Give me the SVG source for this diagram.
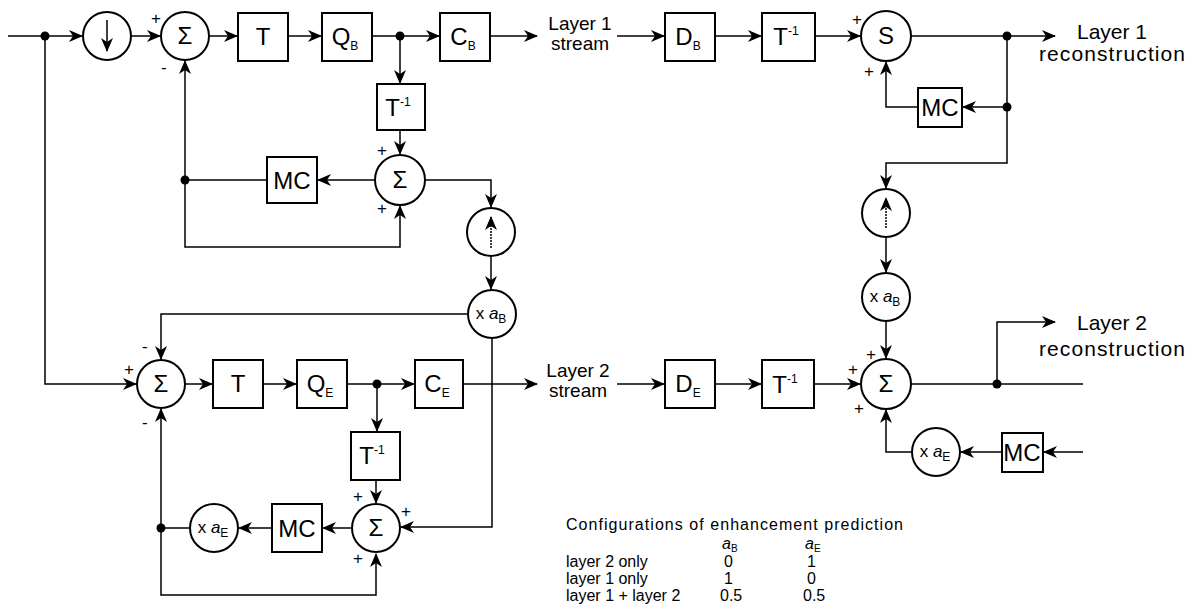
<svg xmlns="http://www.w3.org/2000/svg" width="1200" height="607" viewBox="0 0 1200 607">
<defs>
<style>
.bx{fill:#fff;stroke:#000;stroke-width:2}
.ci{fill:#fff;stroke:#000;stroke-width:2}
.ln{fill:none;stroke:#000;stroke-width:1.5}
.ar{marker-end:url(#ah)}
.dt{fill:#000}
text{font-family:"Liberation Sans",Arial,sans-serif;fill:#000}
.lb{font-size:24px;text-anchor:middle}
.sm{font-size:12px}
.sg{font-size:17px}
.st{font-size:19px;text-anchor:middle}
.rc{font-size:21px;text-anchor:middle}
.tb{font-size:16px}
.xa{font-size:17px;text-anchor:middle}
</style>
<marker id="ah" markerUnits="userSpaceOnUse" markerWidth="14" markerHeight="12" viewBox="0 0 14 12" refX="13" refY="6" orient="auto">
<path d="M0,0 L14,6 L0,12 L4,6 z" fill="#000"/>
</marker>
</defs>

<g id="connectors">
<path class="ln ar" d="M8,36 H82"/>
<path class="ln ar" d="M131,36 H160"/>
<path class="ln ar" d="M209,36 H237"/>
<path class="ln ar" d="M288,36 H321"/>
<path class="ln ar" d="M372,36 H439"/>
<path class="ln ar" d="M490,36 H537"/>
<path class="ln ar" d="M617,36 H664"/>
<path class="ln ar" d="M715,36 H761"/>
<path class="ln ar" d="M815,36 H860"/>
<path class="ln ar" d="M911,36 H1055"/>
<path class="ln ar" d="M1007,36 V163 H886 V188"/>
<path class="ln ar" d="M1007,107 H963"/>
<path class="ln ar" d="M918,107 H886 V62"/>
<path class="ln ar" d="M886,237 V272"/>
<path class="ln ar" d="M886,321 V358"/>
<path class="ln ar" d="M400,36 V83"/>
<path class="ln ar" d="M400,130 V154"/>
<path class="ln ar" d="M375,180 H318"/>
<path class="ln" d="M267,180 H185"/>
<path class="ln ar" d="M185,180 V61"/>
<path class="ln ar" d="M185,180 V247 H400 V206"/>
<path class="ln ar" d="M425,180 H491 V207"/>
<path class="ln ar" d="M491,256 V289"/>
<path class="ln ar" d="M468,314 H161 V359"/>
<path class="ln ar" d="M492,338 V527 H401"/>
<path class="ln ar" d="M45,36 V384 H136"/>
<path class="ln ar" d="M185,384 H212"/>
<path class="ln ar" d="M263,384 H296"/>
<path class="ln ar" d="M347,384 H414"/>
<path class="ln ar" d="M463,384 H537"/>
<path class="ln ar" d="M617,384 H664"/>
<path class="ln ar" d="M715,384 H761"/>
<path class="ln ar" d="M814,384 H860"/>
<path class="ln" d="M911,384 H1083"/>
<path class="ln ar" d="M997,384 V322 H1055"/>
<path class="ln ar" d="M377,384 V431"/>
<path class="ln ar" d="M376,480 V503"/>
<path class="ln ar" d="M352,528 H323"/>
<path class="ln ar" d="M272,528 H239"/>
<path class="ln" d="M190,528 H161"/>
<path class="ln ar" d="M161,528 V409"/>
<path class="ln ar" d="M161,528 V595 H376 V554"/>
<path class="ln ar" d="M1083,452 H1044"/>
<path class="ln ar" d="M1002,452 H961"/>
<path class="ln ar" d="M912,452 H886 V410"/>
<circle class="dt" cx="45" cy="36" r="4.5"/>
<circle class="dt" cx="400" cy="36" r="4.5"/>
<circle class="dt" cx="1007" cy="36" r="4.5"/>
<circle class="dt" cx="1007" cy="107" r="4.5"/>
<circle class="dt" cx="185" cy="180" r="4.5"/>
<circle class="dt" cx="377" cy="384" r="4.5"/>
<circle class="dt" cx="997" cy="384" r="4.5"/>
<circle class="dt" cx="161" cy="528" r="4.5"/>
</g>

<g id="down1">
<circle class="ci" cx="107" cy="36" r="24"/>
<path class="ln ar" d="M107,20 V51"/>
</g>
<g id="sum1">
<circle class="ci" cx="185" cy="36" r="24"/>
<text class="lb" x="185" y="44">Σ</text>
<text class="sg" x="151" y="24">+</text>
<text class="sg" x="161" y="73">-</text>
</g>
<g id="T1">
<rect class="bx" x="238" y="13" width="50" height="48"/>
<text class="lb" x="263" y="45">T</text>
</g>
<g id="QB">
<rect class="bx" x="322" y="13" width="50" height="48"/>
<text class="lb" x="345" y="45">Q<tspan class="sm" dy="5">B</tspan></text>
</g>
<g id="CB">
<rect class="bx" x="440" y="13" width="50" height="48"/>
<text class="lb" x="463" y="45">C<tspan class="sm" dy="5">B</tspan></text>
</g>
<g id="layer1stream">
<text class="st" x="580" y="30">Layer 1</text>
<text class="st" x="580" y="50">stream</text>
</g>
<g id="DB">
<rect class="bx" x="665" y="13" width="50" height="48"/>
<text class="lb" x="688" y="45">D<tspan class="sm" dy="5">B</tspan></text>
</g>
<g id="Tinv1">
<rect class="bx" x="762" y="13" width="53" height="48"/>
<text class="lb" x="786" y="45">T<tspan class="sm" dy="-10">-1</tspan></text>
</g>
<g id="S">
<circle class="ci" cx="886" cy="36" r="25"/>
<text class="lb" x="886" y="44">S</text>
<text class="sg" x="852" y="25">+</text>
<text class="sg" x="864" y="77">+</text>
</g>
<g id="layer1rec">
<text class="rc" x="1112" y="39">Layer 1</text>
<text class="rc" x="1112" y="61" textLength="146">reconstruction</text>
</g>
<g id="MC1">
<rect class="bx" x="918" y="88" width="44" height="39"/>
<text class="lb" x="940" y="116">MC</text>
</g>
<g id="up1">
<circle class="ci" cx="886" cy="213" r="24"/>
<path class="ln ar" d="M886,228 V198" stroke-dasharray="2,1"/>
</g>
<g id="xaB1">
<circle class="ci" cx="886" cy="297" r="24"/>
<text class="xa" x="885" y="302">x <tspan font-style="italic">a</tspan><tspan class="sm" dy="4">B</tspan></text>
</g>
<g id="Tinv2">
<rect class="bx" x="377" y="84" width="48" height="46"/>
<text class="lb" x="398" y="116">T<tspan class="sm" dy="-10">-1</tspan></text>
</g>
<g id="sum2">
<circle class="ci" cx="400" cy="180" r="25"/>
<text class="lb" x="400" y="188">Σ</text>
<text class="sg" x="377" y="156">+</text>
<text class="sg" x="377" y="214">+</text>
</g>
<g id="MC2">
<rect class="bx" x="267" y="157" width="50" height="46"/>
<text class="lb" x="292" y="189">MC</text>
</g>
<g id="up2">
<circle class="ci" cx="491" cy="232" r="24"/>
<path class="ln ar" d="M491,248 V217" stroke-dasharray="2,1"/>
</g>
<g id="xaB2">
<circle class="ci" cx="492" cy="314" r="24"/>
<text class="xa" x="491" y="319">x <tspan font-style="italic">a</tspan><tspan class="sm" dy="4">B</tspan></text>
</g>

<g id="sum3">
<circle class="ci" cx="161" cy="384" r="24"/>
<text class="lb" x="161" y="392">Σ</text>
<text class="sg" x="124" y="375">+</text>
<text class="sg" x="142" y="352">-</text>
<text class="sg" x="142" y="428">-</text>
</g>
<g id="T2">
<rect class="bx" x="213" y="360" width="50" height="48"/>
<text class="lb" x="238" y="392">T</text>
</g>
<g id="QE">
<rect class="bx" x="297" y="360" width="50" height="48"/>
<text class="lb" x="320" y="392">Q<tspan class="sm" dy="5">E</tspan></text>
</g>
<g id="CE">
<rect class="bx" x="415" y="360" width="48" height="48"/>
<text class="lb" x="437" y="392">C<tspan class="sm" dy="5">E</tspan></text>
</g>
<g id="layer2stream">
<text class="st" x="578" y="377">Layer 2</text>
<text class="st" x="578" y="397">stream</text>
</g>
<g id="DE">
<rect class="bx" x="665" y="360" width="50" height="48"/>
<text class="lb" x="688" y="392">D<tspan class="sm" dy="5">E</tspan></text>
</g>
<g id="Tinv3">
<rect class="bx" x="762" y="360" width="52" height="48"/>
<text class="lb" x="785" y="393">T<tspan class="sm" dy="-10">-1</tspan></text>
</g>
<g id="sum4">
<circle class="ci" cx="886" cy="384" r="25"/>
<text class="lb" x="886" y="392">Σ</text>
<text class="sg" x="848" y="375">+</text>
<text class="sg" x="866" y="360">+</text>
<text class="sg" x="854" y="414">+</text>
</g>
<g id="layer2rec">
<text class="rc" x="1112" y="330">Layer 2</text>
<text class="rc" x="1112" y="356" textLength="146">reconstruction</text>
</g>
<g id="xaE1">
<circle class="ci" cx="936" cy="452" r="24"/>
<text class="xa" x="935" y="457">x <tspan font-style="italic">a</tspan><tspan class="sm" dy="4">E</tspan></text>
</g>
<g id="MC3">
<rect class="bx" x="1002" y="433" width="41" height="39"/>
<text class="lb" x="1022" y="461">MC</text>
</g>
<g id="Tinv4">
<rect class="bx" x="351" y="432" width="49" height="48"/>
<text class="lb" x="372" y="464">T<tspan class="sm" dy="-10">-1</tspan></text>
</g>
<g id="sum5">
<circle class="ci" cx="376" cy="528" r="24"/>
<text class="lb" x="376" y="536">Σ</text>
<text class="sg" x="353" y="502">+</text>
<text class="sg" x="401" y="517">+</text>
<text class="sg" x="353" y="564">+</text>
</g>
<g id="MC4">
<rect class="bx" x="272" y="504" width="50" height="48"/>
<text class="lb" x="297" y="537">MC</text>
</g>
<g id="xaE2">
<circle class="ci" cx="214" cy="528" r="24"/>
<text class="xa" x="213" y="533">x <tspan font-style="italic">a</tspan><tspan class="sm" dy="4">E</tspan></text>
</g>

<g id="table">
<text class="tb" x="566" y="530" textLength="337">Configurations of enhancement prediction</text>
<text class="tb" x="722" y="549"><tspan font-style="italic">a</tspan><tspan font-size="10" dy="3">B</tspan></text>
<text class="tb" x="805" y="549"><tspan font-style="italic">a</tspan><tspan font-size="10" dy="3">E</tspan></text>
<text class="tb" x="566" y="567">layer 2 only</text>
<text class="tb" x="724" y="567">0</text>
<text class="tb" x="807" y="567">1</text>
<text class="tb" x="566" y="584">layer 1 only</text>
<text class="tb" x="724" y="584">1</text>
<text class="tb" x="807" y="584">0</text>
<text class="tb" x="566" y="601">layer 1 + layer 2</text>
<text class="tb" x="720" y="601">0.5</text>
<text class="tb" x="803" y="601">0.5</text>
</g>
</svg>
